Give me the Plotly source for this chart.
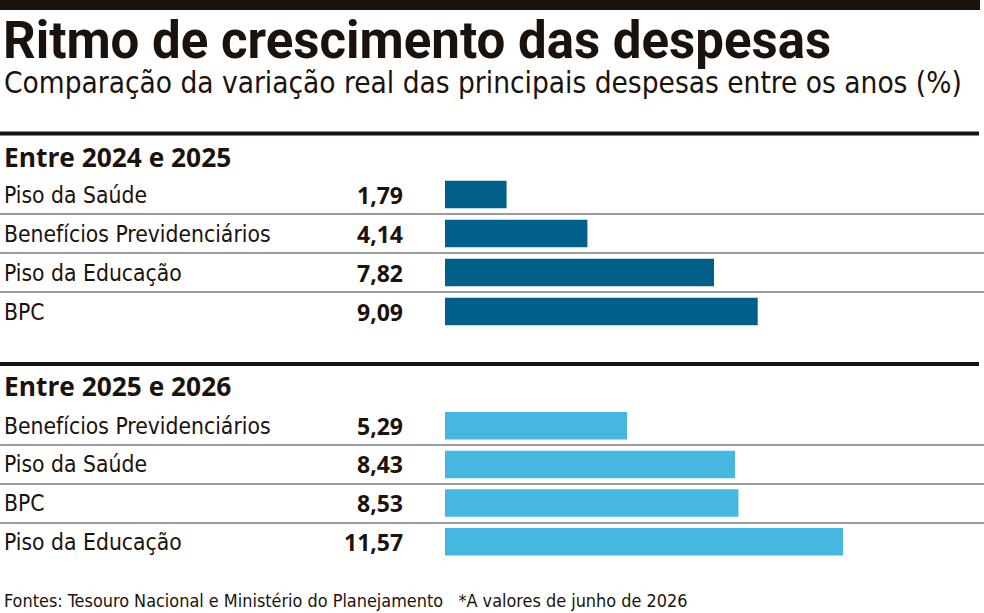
import plotly.graph_objects as go

# dados (variação real, %)
cats_2425 = ["Piso da Saúde", "Benefícios Previdenciários", "Piso da Educação", "BPC"]
vals_2425 = [1.79, 4.14, 7.82, 9.09]
cats_2526 = ["Benefícios Previdenciários", "Piso da Saúde", "BPC", "Piso da Educação"]
vals_2526 = [5.29, 8.43, 8.53, 11.57]

W, H = 984, 613
DARK = "#00608a"
LIGHT = "#46b7e0"
INK = "#1c120c"
LABEL_FONT = "DejaVu Sans Condensed"


def px_x(p):
    return p / W


def px_y(p):
    return 1 - p / H


def fmt(v):
    return f"{v:.2f}".replace(".", ",")


fig = go.Figure()
fig.add_trace(go.Bar(x=vals_2425, y=cats_2425, orientation="h", yaxis="y",
                     marker=dict(color=DARK, line=dict(width=0)), width=0.71,
                     hoverinfo="x+y"))
fig.add_trace(go.Bar(x=vals_2526, y=cats_2526, orientation="h", yaxis="y2",
                     marker=dict(color=LIGHT, line=dict(width=0)), width=0.71,
                     hoverinfo="x+y"))

ax_off = dict(showgrid=False, zeroline=False, showticklabels=False, showline=False, ticks="")
fig.update_layout(
    width=W, height=H, margin=dict(l=0, r=0, t=0, b=0),
    paper_bgcolor="white", plot_bgcolor="rgba(0,0,0,0)", showlegend=False,
    xaxis=dict(domain=[px_x(445), 1], range=[0, (W - 445) / 34.4], **ax_off),
    yaxis=dict(domain=[px_y(331), px_y(175)], type="category",
               categoryorder="array", categoryarray=cats_2425, range=[3.5, -0.5], **ax_off),
    yaxis2=dict(domain=[px_y(561), px_y(406.5)], type="category", anchor="x",
                categoryorder="array", categoryarray=cats_2526, range=[3.5, -0.5], **ax_off),
)

# linhas pretas e separadores cinza
shapes = [
    dict(type="rect", xref="paper", yref="paper", x0=0, x1=px_x(980), y0=px_y(10), y1=1,
         fillcolor=INK, line=dict(width=0)),
]
for y in (133.5, 364):
    shapes.append(dict(type="line", xref="paper", yref="paper", x0=0, x1=px_x(979),
                       y0=px_y(y), y1=px_y(y), line=dict(color=INK, width=4)))
for y in (214, 253, 292, 445, 484, 523):
    shapes.append(dict(type="line", xref="paper", yref="paper", x0=0, x1=1,
                       y0=px_y(y), y1=px_y(y), line=dict(color="#7a7a7a", width=1.5)))
fig.update_layout(shapes=shapes)

ann = []
ann.append(dict(text="<b>Ritmo de crescimento das despesas</b>", xref="paper", yref="paper",
                x=px_x(1), y=px_y(40), xanchor="left", yanchor="middle", showarrow=False,
                font=dict(family="Roboto", size=51, color=INK, weight=900)))
ann.append(dict(text="Comparação da variação real das principais despesas entre os anos (%)",
                xref="paper", yref="paper", x=px_x(2), y=px_y(83), xanchor="left",
                yanchor="middle", showarrow=False,
                font=dict(family=LABEL_FONT, size=29.5, color=INK)))
for txt, y in (("Entre 2024 e 2025", 157), ("Entre 2025 e 2026", 386)):
    ann.append(dict(text=f"<b>{txt}</b>", xref="paper", yref="paper", x=px_x(2), y=px_y(y),
                    xanchor="left", yanchor="middle", showarrow=False,
                    font=dict(family="Open Sans", size=26.3, color=INK)))

for cats, vals, yref in ((cats_2425, vals_2425, "y"), (cats_2526, vals_2526, "y2")):
    for c, v in zip(cats, vals):
        ann.append(dict(text=c, xref="paper", yref=yref, x=px_x(2), y=c, xanchor="left",
                        yanchor="middle", showarrow=False,
                        font=dict(family=LABEL_FONT, size=22.7, color=INK)))
        ann.append(dict(text=f"<b>{fmt(v)}</b>", xref="paper", yref=yref, x=px_x(405), y=c,
                        xanchor="right", yanchor="middle", showarrow=False,
                        font=dict(family="Open Sans", size=23, color=INK)))

ann.append(dict(text="Fontes: Tesouro Nacional e Ministério do Planejamento&nbsp;&nbsp;&nbsp;*A valores de junho de 2026",
                xref="paper", yref="paper", x=px_x(2), y=px_y(600), xanchor="left",
                yanchor="middle", showarrow=False,
                font=dict(family=LABEL_FONT, size=17.9, color=INK)))
fig.update_layout(annotations=ann)

# a página tem margem de 8px no body; zerar para alinhar ao quadro
fig.write_html("out.html", config={"displayModeBar": False},
               post_script="document.body.style.margin='0';")
